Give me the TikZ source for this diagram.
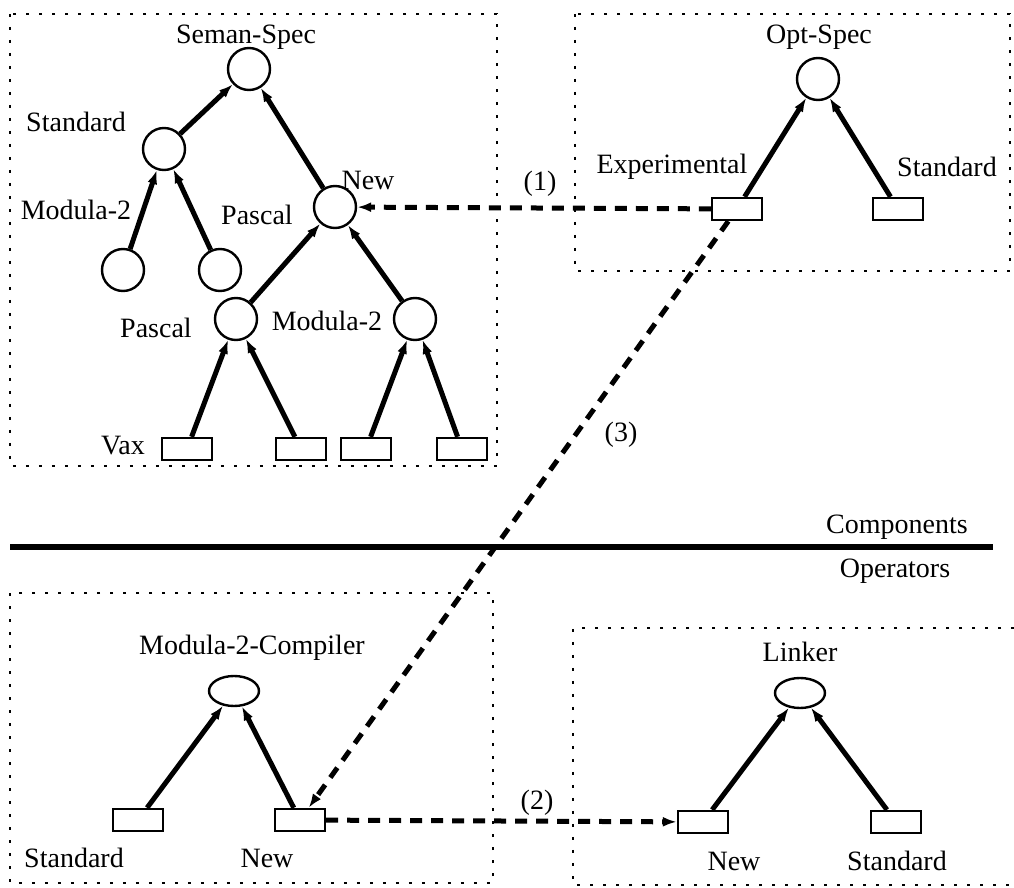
\documentclass[tikz,border=0pt]{standalone}
\usepackage{fontspec}
\setmainfont{Liberation Serif}
\usetikzlibrary{arrows.meta,shapes.geometric}

\begin{document}
\begin{tikzpicture}[x=0.5pt,y=-0.5pt,
    >={Latex[length=7pt,width=5pt]},
    every node/.style={font=\fontsize{14}{16}\selectfont},
    obj/.style={draw,circle,line width=1.2pt,minimum size=21pt,inner sep=0pt},
    ver/.style={draw,rectangle,line width=1.2pt,minimum width=25pt,minimum height=11pt,inner sep=0pt},
    op/.style={draw,ellipse,line width=1.2pt,minimum width=25pt,minimum height=15pt,inner sep=0pt},
    dep/.style={->,line width=2.5pt},
    rel/.style={->,line width=2.5pt,dash pattern=on 6pt off 4.5pt},
    area/.style={line width=1.3pt,dash pattern=on 1.3pt off 5.2pt}]
    \useasboundingbox (0,0) rectangle (1014,888);

    % 1) Dotted areas and the separating line
    \draw[area] (10,14) rectangle (497,466);
    \draw[area] (575,14) rectangle (1010,271);
    \draw[area] (10,593) rectangle (493,883);
    \draw[area] (1014,628) -- (573,628) -- (573,885) -- (1014,885);
    \coordinate (sepL) at (10,547);
    \coordinate (sepR) at (993,547);
    \draw[line width=2.6pt] (sepL) -- (sepR);
    \node (components) at (897,527) {Components};
    \node (operators) at (895,571) {Operators};

    % 2) Seman-Spec tree
    \node[obj] (semSpec) at (249,69) {};
    \node[obj] (semStd) at (164,149) {};
    \node[obj] (leafA) at (123,270) {};
    \node[obj] (leafB) at (220,270) {};
    \node[obj] (semNew) at (335,207) {};
    \node[obj] (semPas) at (236,319) {};
    \node[obj] (semMod) at (415,319) {};
    \node[ver] (vax) at (187,449) {};
    \node[ver] (pasB) at (301,449) {};
    \node[ver] (modA) at (366,449) {};
    \node[ver] (modB) at (462,449) {};
    \node (lSemSpec) at (246,37) {Seman-Spec};
    \node (lSemStd) at (76,122) {Standard};
    \node (lLeafA) at (76,210) {Modula-2};
    \node (lSemNew) at (368,180) {New};
    \node (lNewPas) at (257,215) {Pascal};
    \node (lSemPas) at (156,328) {Pascal};
    \node (lSemMod) at (327,321) {Modula-2};
    \node (lVax) at (123,446) {Vax};
    \draw[dep] (semStd) -- (semSpec);
    \draw[dep] (semNew) -- (semSpec);
    \draw[dep] (leafA) -- (semStd);
    \draw[dep] (leafB) -- (semStd);
    \draw[dep] (semPas) -- (semNew);
    \draw[dep] (semMod) -- (semNew);
    \draw[dep] (vax) -- (semPas);
    \draw[dep] (pasB) -- (semPas);
    \draw[dep] (modA) -- (semMod);
    \draw[dep] (modB) -- (semMod);

    % 3) Opt-Spec tree
    \node[obj] (optSpec) at (818,79) {};
    \node[ver] (optExp) at (737,209) {};
    \node[ver] (optStd) at (898,209) {};
    \node (lOptSpec) at (819,37) {Opt-Spec};
    \node (lOptExp) at (672,167) {Experimental};
    \node (lOptStd) at (947,167) {Standard};
    \draw[dep] (optExp) -- (optSpec);
    \draw[dep] (optStd) -- (optSpec);

    % 4) Modula-2-Compiler operator
    \node[op] (compOp) at (234,691) {};
    \node[ver] (compStd) at (138,820) {};
    \node[ver] (compNew) at (300,820) {};
    \node (lCompOp) at (252,648) {Modula-2-Compiler};
    \node (lCompStd) at (74,858) {Standard};
    \node (lCompNew) at (267,858) {New};
    \draw[dep] (compStd) -- (compOp);
    \draw[dep] (compNew) -- (compOp);

    % 5) Linker operator
    \node[op] (linkOp) at (800,693) {};
    \node[ver] (linkNew) at (703,822) {};
    \node[ver] (linkStd) at (896,822) {};
    \node (lLinkOp) at (800,652) {Linker};
    \node (lLinkNew) at (734,861) {New};
    \node (lLinkStd) at (897,861) {Standard};
    \draw[dep] (linkNew) -- (linkOp);
    \draw[dep] (linkStd) -- (linkOp);

    % 6) Dashed relations (1), (2), (3)
    \draw[rel] (optExp) -- (semNew);
    \node (rOne) at (540,184) {(1)};
    \draw[rel] (compNew) -- (linkNew);
    \node (rTwo) at (537,803) {(2)};
    \draw[rel] (optExp) -- (compNew);
    \node (rThree) at (621,435) {(3)};
\end{tikzpicture}
\end{document}
